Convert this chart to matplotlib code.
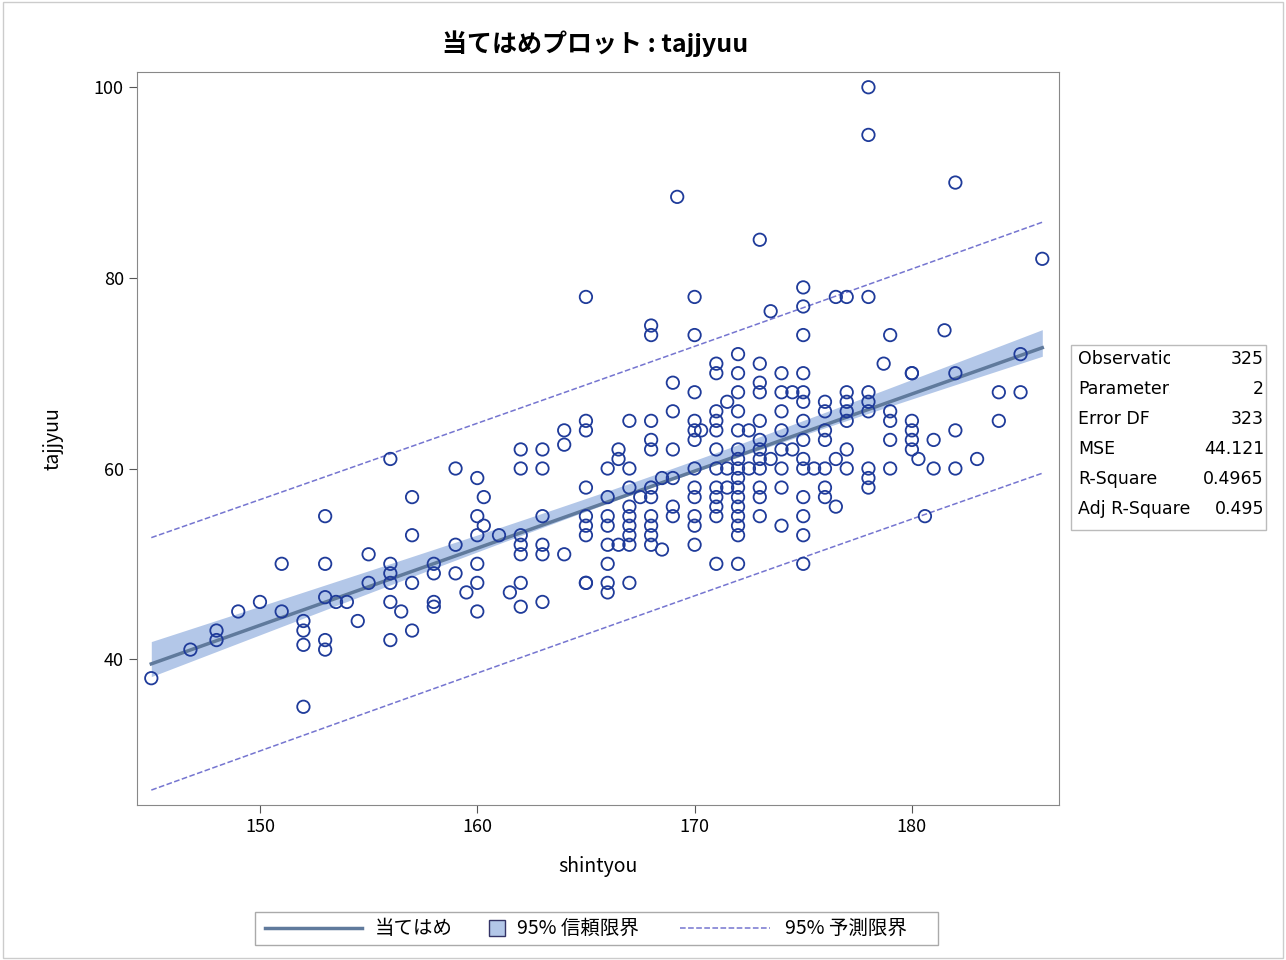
import matplotlib
matplotlib.use('Agg')
import matplotlib.pyplot as plt
import numpy as np
from matplotlib.patches import Rectangle
from matplotlib.lines import Line2D

plt.rcParams['font.family'] = ['Noto Sans CJK JP', 'DejaVu Sans']

# 身長ごとの体重 (読み取り値)
pts = {
    145: [38], 146.8: [41], 148: [42, 43], 149: [45], 150: [46], 151: [50, 45],
    152: [41.5, 43, 44, 35], 153: [55, 50, 46.5, 42, 41], 153.5: [46], 154: [46],
    154.5: [44], 155: [51, 48], 156: [61, 50, 49, 48, 46, 42], 156.5: [45],
    157: [57, 53, 48, 43], 158: [50, 49, 46, 45.5], 159: [60, 52, 49], 159.5: [47],
    160: [59, 55, 53, 50, 48, 45], 160.3: [57, 54], 161: [53], 161.5: [47],
    162: [62, 60, 53, 52, 51, 48, 45.5], 163: [62, 60, 55, 52, 51, 46],
    164: [64, 62.5, 51], 165: [78, 65, 64, 58, 55, 54, 53, 48, 48],
    166: [60, 57, 55, 54, 52, 50, 48, 47], 166.5: [62, 61, 52],
    167: [65, 60, 58, 56, 55, 54, 53, 52, 48], 167.5: [57],
    168: [75, 74, 65, 63, 62, 58, 57, 55, 54, 53, 52], 168.5: [59, 51.5],
    169: [69, 66, 62, 59, 56, 55], 169.2: [88.5],
    170: [78, 74, 68, 65, 64, 63, 60, 58, 57, 55, 54, 52], 170.3: [64],
    171: [71, 70, 66, 65, 64, 62, 60, 58, 57, 56, 55, 50], 171.5: [67, 60, 58],
    172: [72, 70, 68, 66, 64, 62, 61, 60, 59, 58, 57, 56, 55, 54, 53, 50],
    172.5: [64, 60], 173: [84, 71, 69, 68, 65, 63, 62, 61, 60, 58, 57, 55],
    173.5: [76.5, 61], 174: [70, 68, 66, 64, 62, 60, 58, 54], 174.5: [68, 62],
    175: [79, 77, 74, 70, 68, 67, 65, 63, 61, 60, 57, 55, 53, 50], 175.5: [60],
    176: [67, 66, 64, 63, 60, 58, 57], 176.5: [78, 61, 56],
    177: [78, 68, 67, 66, 65, 62, 60], 178: [100, 95, 78, 68, 67, 66, 60, 59, 58],
    178.7: [71], 179: [74, 66, 65, 63, 60], 180: [70, 70, 65, 64, 63, 62],
    180.3: [61], 180.6: [55], 181: [63, 60], 181.5: [74.5], 182: [90, 70, 64, 60],
    183: [61], 184: [68, 65], 185: [72, 68], 186: [82],
}
shintyou = np.array([k for k, v in pts.items() for _ in v])
tajjyuu = np.array([y for v in pts.values() for y in v])

# 当てはめ統計量 (表示用)
stat_names = ['Observations', 'Parameters', 'Error DF', 'MSE', 'R-Square', 'Adj R-Square']
stat_vals = ['325', '2', '323', '44.121', '0.4965', '0.495']
mse = 44.121
n_obs = 325
legend_labels = ['当てはめ', '95% 信頼限界', '95% 予測限界']

# 回帰
b1, b0 = np.polyfit(shintyou, tajjyuu, 1)
xs = np.linspace(145, 186, 100)
yfit = b0 + b1 * xs
xm = shintyou.mean()
sxx = np.sum((shintyou - xm) ** 2) * n_obs / len(shintyou)
t = 1.967
se_m = np.sqrt(mse * (1 / n_obs + (xs - xm) ** 2 / sxx))
se_p = np.sqrt(mse * (1 + 1 / n_obs + (xs - xm) ** 2 / sxx))

fig = plt.figure(figsize=(12.86, 9.6), dpi=100)
ax = fig.add_axes([0.1065, 0.1615, 0.717, 0.7635])
band_c = '#b3c7e8'
line_c = '#607a9c'
dash_c = '#7575d0'
ax.fill_between(xs, yfit - 0.85 * t * se_m, yfit + 0.85 * t * se_m, color=band_c, lw=0)
ax.plot(xs, yfit - 0.5, color=line_c, lw=2.5)
ax.plot(xs, yfit - 0.5 - t * se_p, '--', color=dash_c, lw=1.1)
ax.plot(xs, yfit - 0.5 + t * se_p, '--', color=dash_c, lw=1.1)
ax.scatter(shintyou, tajjyuu, s=80, facecolors='none', edgecolors='#1f3b9a', lw=1.3, zorder=3)

ax.set_xlim(144.34, 186.77)
ax.set_ylim(24.7, 101.6)
ax.set_xticks([150, 160, 170, 180])
ax.set_yticks([40, 60, 80, 100])
ax.tick_params(labelsize=13, color='#555555', length=6)
for s in ax.spines.values():
    s.set_color('#888888')
ax.set_xlabel('shintyou', fontsize=14, labelpad=14)
ax.set_ylabel('tajjyuu', fontsize=14, labelpad=22)
fig.text(0.463, 0.955, '当てはめプロット : tajjyuu', ha='center', va='center',
         fontsize=18, fontweight='bold')

# 統計量の表
fig.patches.append(Rectangle((1071 / 1286, 1 - 530 / 960), 195 / 1286, 185 / 960,
                             transform=fig.transFigure, fill=False, ec='#bbbbbb', lw=1))
for i, (nm, vl) in enumerate(zip(stat_names, stat_vals)):
    yy = 1 - (359 + i * 30) / 960
    tx = fig.text(1078 / 1286, yy, nm, fontsize=12.5, va='center', family='DejaVu Sans')
    tx.set_clip_box(matplotlib.transforms.Bbox.from_extents(1071, 0, 1170 if i < 5 else 1198, 960))
    tx.set_clip_on(True)
    fig.text(1264 / 1286, yy, vl, fontsize=12.5, va='center', ha='right', family='DejaVu Sans')


# 凡例 (手描き)
def fx(px):
    return px / 1286


ly = 1 - 928 / 960
fig.patches.append(Rectangle((fx(255), 1 - 945 / 960), fx(683), 33 / 960,
                             transform=fig.transFigure, fill=False, ec='#aaaaaa', lw=1))
fig.add_artist(Line2D([fx(265), fx(362)], [ly, ly], color=line_c, lw=2.5))
fig.patches.append(Rectangle((fx(489), ly - 8 / 960), fx(16), 16 / 960, transform=fig.transFigure,
                             fc=band_c, ec='#333366', lw=1))
fig.add_artist(Line2D([fx(680), fx(770)], [ly, ly], ls='--', color=dash_c, lw=1.1))
for px, lab in zip([375, 517, 785], legend_labels):
    fig.text(fx(px), ly, lab, fontsize=14, va='center')

fig.patches.append(Rectangle((0.002, 0.002), 0.996, 0.996, transform=fig.transFigure,
                             fill=False, ec='#cccccc', lw=1))
fig.savefig('out.png', dpi=100)
